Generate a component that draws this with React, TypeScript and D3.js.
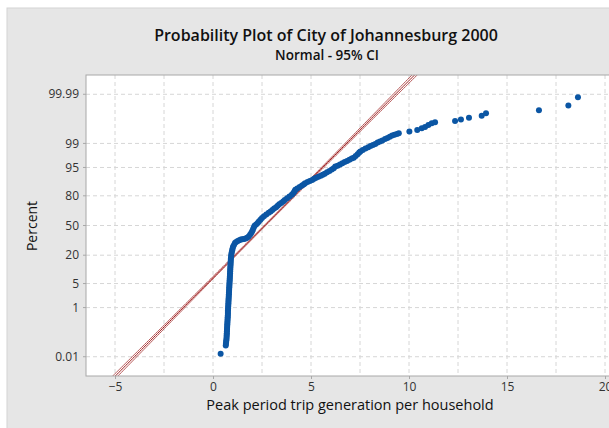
import { useEffect, useRef } from "react";
import * as d3 from "d3";

const TITLE = "Probability Plot of City of Johannesburg 2000";
const SUBTITLE = "Normal - 95% CI";
const X_LABEL = "Peak period trip generation per household";
const Y_LABEL = "Percent";

const X_TICKS = [-5, 0, 5, 10, 15, 20];
const X_GRID = [-5, -2.5, 0, 2.5, 5, 7.5, 10, 12.5, 15, 17.5, 20];
const Y_TICKS = [0.01, 1, 5, 20, 50, 80, 95, 99, 99.99];

// fitted normal distribution and sample size (for the 95% CI bands)
const FIT_MEAN = 2.65;
const FIT_SD = 1.79;
const SAMPLE_N = 7000;

// [trip generation, percent]
const lowTail: [number, number][] = [[0.39, 0.014]];

const streak: [number, number][] = [
  [0.65, 0.034], [0.66, 0.04], [0.67, 0.048], [0.68, 0.058], [0.69, 0.069],
  [0.695, 0.082], [0.7, 0.097], [0.705, 0.114], [0.71, 0.135], [0.715, 0.159],
  [0.72, 0.187], [0.725, 0.219], [0.73, 0.256], [0.735, 0.298], [0.74, 0.347],
  [0.745, 0.402], [0.75, 0.466], [0.755, 0.539], [0.76, 0.621], [0.76, 0.714],
  [0.765, 0.82], [0.77, 0.939], [0.775, 1.07], [0.78, 1.22], [0.785, 1.39],
  [0.79, 1.58], [0.795, 1.79], [0.8, 2.02], [0.805, 2.28], [0.81, 2.56],
  [0.815, 2.87], [0.82, 3.22], [0.825, 3.59], [0.83, 4.01], [0.835, 4.46],
  [0.84, 4.95], [0.845, 5.48], [0.85, 6.06], [0.855, 6.68], [0.86, 7.35],
  [0.865, 8.08], [0.87, 8.85], [0.875, 9.68], [0.88, 10.56], [0.885, 11.51],
  [0.89, 12.51], [0.895, 13.57], [0.9, 14.69], [0.905, 15.87], [0.91, 17.11],
  [0.92, 18.41], [0.93, 19.77], [0.94, 21.19], [0.96, 22.66], [0.98, 24.2],
  [1.0, 25.78], [1.02, 27.43],
];

const knee: [number, number][] = [
  [1.07, 29.1], [1.12, 30.9], [1.18, 31.9], [1.26, 33.0], [1.34, 33.7],
  [1.42, 34.5], [1.5, 34.8], [1.58, 35.2], [1.66, 35.6], [1.74, 36.3],
  [1.82, 37.8], [1.89, 39.7], [1.95, 41.7], [2.0, 43.6], [2.04, 45.6],
  [2.08, 47.6], [2.12, 49.6], [2.2, 51.2], [2.28, 52.8], [2.34, 54.4],
  [2.42, 56.4], [2.5, 58.3],
];

const body: [number, number][] = [
  [2.6, 60.3], [2.72, 62.2], [2.84, 64.1], [2.94, 65.5], [3.03, 67.0],
  [3.12, 68.4], [3.22, 69.8], [3.3, 71.2], [3.38, 72.6], [3.48, 73.9],
  [3.58, 75.2], [3.66, 76.4], [3.78, 77.9], [3.9, 79.4], [4.02, 80.8],
  [4.1, 82.1], [4.16, 83.4], [4.2, 84.4], [4.3, 85.3], [4.42, 86.2],
  [4.54, 87.1], [4.64, 87.9], [4.7, 88.5], [4.82, 89.1], [4.94, 89.6],
  [5.06, 90.1], [5.16, 90.7], [5.26, 91.15], [5.38, 91.6], [5.5, 92.1],
  [5.6, 92.5], [5.7, 92.9], [5.82, 93.45], [5.94, 93.9], [6.06, 94.4],
  [6.16, 94.8], [6.24, 95.25], [6.36, 95.5], [6.48, 95.8], [6.6, 96.1],
  [6.72, 96.4], [6.84, 96.6], [6.96, 96.9], [7.08, 97.1], [7.18, 97.26],
  [7.28, 97.56], [7.38, 97.83], [7.46, 98.08], [7.52, 98.21], [7.64, 98.38],
  [7.78, 98.54], [7.92, 98.68], [8.04, 98.78], [8.16, 98.87], [8.28, 98.96],
  [8.4, 99.06], [8.52, 99.13], [8.64, 99.2], [8.78, 99.29], [8.9, 99.34],
  [9.02, 99.41], [9.14, 99.46], [9.26, 99.49], [9.38, 99.52], [9.48, 99.55],
];

const upperTail: [number, number][] = [
  [10.02, 99.61], [10.42, 99.66], [10.65, 99.71], [10.82, 99.74], [10.99, 99.78],
  [11.16, 99.81], [11.33, 99.83], [12.35, 99.846], [12.65, 99.866], [13.06, 99.886],
  [13.71, 99.906], [13.93, 99.926], [16.63, 99.946], [18.13, 99.966], [18.62, 99.986],
];

// inverse standard normal CDF (Acklam)
function normInv(p: number): number {
  const a = [-39.69683028665376, 220.9460984245205, -275.9285104469687, 138.357751867269, -30.66479806614716, 2.506628277459239];
  const b = [-54.47609879822406, 161.5858368580409, -155.6989798598866, 66.80131188771972, -13.28068155288572];
  const c = [-0.007784894002430293, -0.3223964580411365, -2.400758277161838, -2.549732539343734, 4.374664141464968, 2.938163982698783];
  const d = [0.007784695709041462, 0.3224671290700398, 2.445134137142996, 3.754408661907416];
  const plow = 0.02425;
  if (p < plow) {
    const q = Math.sqrt(-2 * Math.log(p));
    return (((((c[0] * q + c[1]) * q + c[2]) * q + c[3]) * q + c[4]) * q + c[5]) /
      ((((d[0] * q + d[1]) * q + d[2]) * q + d[3]) * q + 1);
  }
  if (p <= 1 - plow) {
    const q = p - 0.5;
    const r = q * q;
    return ((((((a[0] * r + a[1]) * r + a[2]) * r + a[3]) * r + a[4]) * r + a[5]) * q) /
      (((((b[0] * r + b[1]) * r + b[2]) * r + b[3]) * r + b[4]) * r + 1);
  }
  const q = Math.sqrt(-2 * Math.log(1 - p));
  return -(((((c[0] * q + c[1]) * q + c[2]) * q + c[3]) * q + c[4]) * q + c[5]) /
    ((((d[0] * q + d[1]) * q + d[2]) * q + d[3]) * q + 1);
}

const W = 609;
const H = 428;
const plot = { left: 86, top: 75, right: 614, bottom: 376 };
const Z_MAX = 4.265;
const FONT = "'Open Sans', 'Noto Sans', sans-serif";

export default function App() {
  const svgRef = useRef<SVGSVGElement>(null);

  useEffect(() => {
    if (!svgRef.current) return;
    const svg = d3.select(svgRef.current);
    svg.selectAll("*").remove();

    const x = d3.scaleLinear().domain([-5, 20]).range([115, 605]);
    const yz = d3.scaleLinear().domain([-Z_MAX, Z_MAX]).range([plot.bottom, plot.top]);
    const yPct = (p: number) => yz(normInv(p / 100));

    // panel
    svg.append("rect").attr("width", W).attr("height", H).attr("fill", "#fff");
    svg.append("rect")
      .attr("x", 7).attr("y", 8).attr("width", W).attr("height", H)
      .attr("fill", "#e6e6e6").attr("stroke", "#d4d4d4");

    svg.append("rect")
      .attr("x", plot.left).attr("y", plot.top)
      .attr("width", plot.right - plot.left).attr("height", plot.bottom - plot.top)
      .attr("fill", "#fff");

    svg.append("defs").append("clipPath").attr("id", "plot-clip")
      .append("rect")
      .attr("x", plot.left).attr("y", plot.top)
      .attr("width", plot.right - plot.left).attr("height", plot.bottom - plot.top);

    // grid
    const grid = svg.append("g").attr("stroke", "#d6d6d6").attr("stroke-dasharray", "4,3");
    grid.selectAll("line.v").data(X_GRID).join("line").attr("class", "v")
      .attr("x1", (d) => x(d)).attr("x2", (d) => x(d))
      .attr("y1", plot.top).attr("y2", plot.bottom);
    grid.selectAll("line.h").data(Y_TICKS).join("line").attr("class", "h")
      .attr("x1", plot.left).attr("x2", plot.right)
      .attr("y1", (d) => yPct(d)).attr("y2", (d) => yPct(d));

    const g = svg.append("g").attr("clip-path", "url(#plot-clip)");

    // fit line and CI bands
    const zs = d3.range(-Z_MAX - 0.2, Z_MAX + 0.2, 0.05);
    const half = (z: number) =>
      1.96 * FIT_SD * Math.sqrt(1 / SAMPLE_N + (z * z) / (2 * (SAMPLE_N - 1)));
    const line = d3.line<number>().y((z) => yz(z));
    g.append("path")
      .attr("d", line.x((z) => x(FIT_MEAN + z * FIT_SD - half(z)))(zs))
      .attr("fill", "none").attr("stroke", "#b04a4a").attr("stroke-width", 0.9);
    g.append("path")
      .attr("d", line.x((z) => x(FIT_MEAN + z * FIT_SD + half(z)))(zs))
      .attr("fill", "none").attr("stroke", "#b04a4a").attr("stroke-width", 0.9);
    g.append("path")
      .attr("d", line.x((z) => x(FIT_MEAN + z * FIT_SD))(zs))
      .attr("fill", "none").attr("stroke", "#9e1b1b").attr("stroke-width", 1);

    // data points
    const points = [...lowTail, ...streak, ...knee, ...body, ...upperTail];
    g.selectAll("circle").data(points).join("circle")
      .attr("cx", (d) => x(d[0])).attr("cy", (d) => yPct(d[1]))
      .attr("r", 3).attr("fill", "#0b56a4");

    // border
    svg.append("rect")
      .attr("x", plot.left).attr("y", plot.top)
      .attr("width", plot.right - plot.left).attr("height", plot.bottom - plot.top)
      .attr("fill", "none").attr("stroke", "#a8a8a8");

    // x axis
    const xAxis = svg.append("g")
      .attr("transform", `translate(0,${plot.bottom})`)
      .call(d3.axisBottom(x).tickValues(X_TICKS).tickSize(3).tickPadding(3).tickFormat(d3.format("d")));
    xAxis.select(".domain").remove();
    xAxis.selectAll("line").attr("stroke", "#a8a8a8");
    xAxis.selectAll("text")
      .style("font-family", FONT).style("font-size", "12px").attr("fill", "#333");

    // y axis
    const yAxis = svg.append("g").attr("transform", `translate(${plot.left},0)`);
    yAxis.selectAll("line").data(Y_TICKS).join("line")
      .attr("x1", -3).attr("x2", 0)
      .attr("y1", (d) => yPct(d)).attr("y2", (d) => yPct(d))
      .attr("stroke", "#a8a8a8");
    yAxis.selectAll("text").data(Y_TICKS).join("text")
      .attr("x", -7).attr("y", (d) => yPct(d)).attr("dy", "0.35em")
      .attr("text-anchor", "end")
      .style("font-family", FONT).style("font-size", "12px").attr("fill", "#333")
      .text((d) => String(d));

    // titles
    svg.append("text")
      .attr("x", 326).attr("y", 41).attr("text-anchor", "middle")
      .style("font-family", FONT).style("font-size", "16px").style("font-weight", 600)
      .attr("fill", "#111").text(TITLE);
    svg.append("text")
      .attr("x", 327).attr("y", 60).attr("text-anchor", "middle")
      .style("font-family", FONT).style("font-size", "13.5px").style("font-weight", 600)
      .attr("fill", "#111").text(SUBTITLE);
    svg.append("text")
      .attr("x", 350).attr("y", 410).attr("text-anchor", "middle")
      .style("font-family", FONT).style("font-size", "14.5px").style("font-weight", 500)
      .attr("fill", "#111").text(X_LABEL);
    svg.append("text")
      .attr("transform", `translate(37,226) rotate(-90)`).attr("text-anchor", "middle")
      .style("font-family", FONT).style("font-size", "14px").style("font-weight", 500)
      .attr("fill", "#111").text(Y_LABEL);
  }, []);

  return (
    <div style={{ position: "absolute", left: 0, top: 0, width: W, height: H, overflow: "hidden" }}>
      <svg ref={svgRef} width={W} height={H} style={{ display: "block" }} />
    </div>
  );
}
